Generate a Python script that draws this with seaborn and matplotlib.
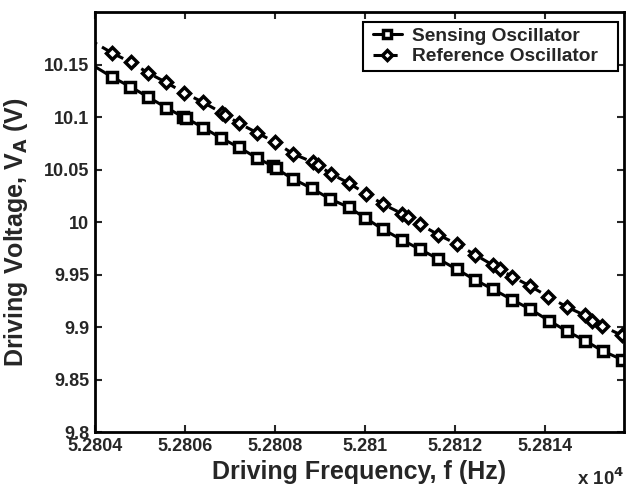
import matplotlib
matplotlib.use("Agg")
import matplotlib.pyplot as plt
import seaborn as sns
import pandas as pd
from matplotlib.ticker import FixedLocator, FuncFormatter
from matplotlib.patches import Rectangle

# Data (frequency in Hz, voltage in V)
sense_f = [52803.58, 52804.38, 52804.78, 52805.18, 52805.58, 52805.96, 52806.02,
           52806.40, 52806.80, 52807.20, 52807.60, 52807.96, 52808.02, 52808.40,
           52808.82, 52809.22, 52809.64, 52810.00, 52810.40, 52810.82, 52811.22,
           52811.62, 52812.04, 52812.44, 52812.84, 52813.27, 52813.67, 52814.09,
           52814.49, 52814.89, 52815.29, 52815.71]
sense_v = [10.159, 10.138, 10.129, 10.119, 10.109, 10.100, 10.099, 10.090, 10.080,
           10.071, 10.061, 10.053, 10.051, 10.041, 10.032, 10.022, 10.014, 10.004,
           9.993, 9.983, 9.974, 9.965, 9.955, 9.945, 9.936, 9.926, 9.917, 9.906,
           9.896, 9.887, 9.877, 9.869]
ref_f = [52803.58, 52804.38, 52804.80, 52805.18, 52805.58, 52805.98, 52806.40,
         52806.82, 52806.89, 52807.20, 52807.60, 52808.00, 52808.40, 52808.84,
         52808.96, 52809.24, 52809.64, 52810.02, 52810.40, 52810.82, 52810.96,
         52811.22, 52811.62, 52812.04, 52812.44, 52812.84, 52813.00, 52813.27,
         52813.67, 52814.07, 52814.49, 52814.89, 52815.04, 52815.27, 52815.71]
ref_v = [10.181, 10.161, 10.152, 10.142, 10.133, 10.123, 10.114, 10.104, 10.102,
         10.094, 10.085, 10.076, 10.065, 10.057, 10.054, 10.046, 10.037, 10.027,
         10.017, 10.008, 10.005, 9.998, 9.988, 9.979, 9.969, 9.959, 9.955, 9.948,
         9.939, 9.929, 9.919, 9.911, 9.906, 9.901, 9.892]
series_names = ["Sensing Oscillator", "Reference Oscillator"]
x_ticks = [52804, 52806, 52808, 52810, 52812, 52814]
y_ticks = [9.8, 9.85, 9.9, 9.95, 10.0, 10.05, 10.1, 10.15]

sns.set_style("ticks")
plt.rcParams['font.family'] = ['Liberation Sans', 'DejaVu Sans']
plt.rcParams['font.weight'] = 'bold'

fig = plt.figure(figsize=(6.26, 4.88), dpi=100)
ax = fig.add_axes([95/626, 1 - 432/488, 529/626, 420/488])

df_s = pd.DataFrame({"f": sense_f, "v": sense_v})
df_r = pd.DataFrame({"f": ref_f, "v": ref_v})

sns.lineplot(data=df_s, x="f", y="v", ax=ax, estimator=None, sort=False,
             color="black", linewidth=2.2, marker="s", markersize=6.5,
             markerfacecolor="white", markeredgecolor="black",
             markeredgewidth=2.5, label=series_names[0])
sns.lineplot(data=df_r, x="f", y="v", ax=ax, estimator=None, sort=False,
             color="black", linewidth=2.2, linestyle=(0, (3.0, 1.9)), marker="D",
             markersize=6.0, markerfacecolor="white", markeredgecolor="black",
             markeredgewidth=2.5, label=series_names[1])

ax.set_xlim(52804, 52815.756)
ax.set_ylim(9.8, 10.2)
ax.xaxis.set_major_locator(FixedLocator(x_ticks))
ax.yaxis.set_major_locator(FixedLocator(y_ticks))
ax.xaxis.set_major_formatter(FuncFormatter(lambda v, p: f"{v/1e4:g}"))
ax.yaxis.set_major_formatter(FuncFormatter(lambda v, p: f"{v:g}"))
ax.xaxis.set_ticks_position("both")
ax.yaxis.set_ticks_position("both")
ax.tick_params(which="both", direction="in", top=True, right=True,
               length=5, width=1.5, labelsize=13, pad=4)
for lab in ax.get_xticklabels() + ax.get_yticklabels():
    lab.set_fontweight("bold")
for sp in ax.spines.values():
    sp.set_linewidth(2.0)
    sp.set_color("black")

ax.set_xlabel("Driving Frequency, f (Hz)", fontsize=18, fontweight="bold", labelpad=4)
ax.set_ylabel("Driving Voltage, V$_\\mathbf{A}$ (V)", fontsize=18, fontweight="bold")
ax.yaxis.set_label_coords(-0.122, 0.475)
ax.text(1.0, -0.084, "x 10$^\\mathbf{4}$", transform=ax.transAxes, ha="right",
        va="top", fontsize=13.5, fontweight="bold")

# legend frame (MATLAB-style box) and entries
ax.add_patch(Rectangle((0.5066, 0.8595), 0.9887 - 0.5066, 0.9762 - 0.8595,
                       transform=ax.transAxes, facecolor="white",
                       edgecolor="black", linewidth=1.5, zorder=4, clip_on=False))
leg = ax.legend(loc="upper left", bbox_to_anchor=(0.5255, 0.963), fontsize=13.8,
                handlelength=1.5, frameon=False, borderaxespad=0.0,
                handletextpad=0.55, borderpad=0.0, labelspacing=0.15,
                markerscale=0.85)
leg.set_zorder(5)
for t in leg.get_texts():
    t.set_fontweight("bold")

fig.savefig("out.png", dpi=100)
